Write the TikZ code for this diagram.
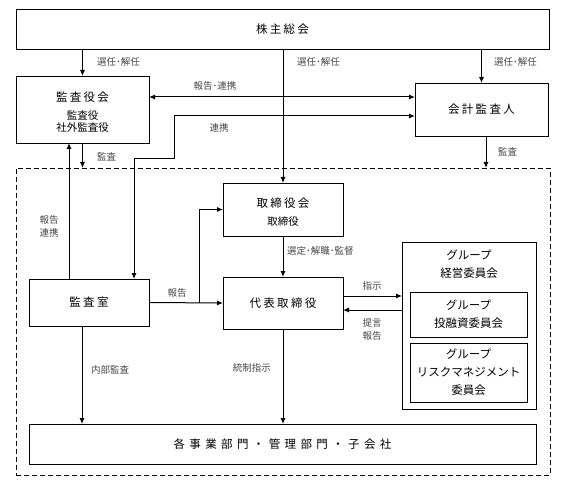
\documentclass[tikz,border=0pt]{standalone}
\usepackage{fontspec}
\setmainfont{Noto Sans CJK JP}
\newfontfamily\jpwide[LetterSpace=20]{Noto Sans CJK JP}
\newfontfamily\jpwider[LetterSpace=38]{Noto Sans CJK JP}
\usetikzlibrary{arrows.meta}

\begin{document}
\begin{tikzpicture}[x=1pt, y=-1pt,
    box/.style={draw, line width=0.9pt, inner sep=0pt, outer sep=0pt},
    ttl/.style={font=\jpwide\fontsize{11.5}{13}\selectfont},
    subtxt/.style={font=\fontsize{10.5}{12}\selectfont, align=center},
    cmte/.style={font=\fontsize{11.5}{18}\selectfont, align=center},
    lbl/.style={font=\fontsize{9.5}{13}\selectfont, text=black!72, inner sep=0pt, align=center},
    arr/.style={line width=1pt, -{Latex[length=6pt, width=5pt]}},
    arrboth/.style={line width=1pt, {Latex[length=6pt, width=5pt]}-{Latex[length=6pt, width=5pt]}}]

    % Fix the size of the picture
    \useasboundingbox (0,0) rectangle (567,486);

    % Dashed area of the company
    \node[box, dash pattern=on 5pt off 3pt, minimum width=534, minimum height=307] (company) at (283,321.5) {};

    % Boxes
    \node[box, ttl, minimum width=533, minimum height=40] (soukai) at (282.5,29) {株主総会};
    \node[box, minimum width=133, minimum height=67] (kansayakukai) at (82.5,109.5) {};
    \node[ttl] (kansayakukai-name) at (82.5,97) {監査役会};
    \node[subtxt] (kansayakukai-sub) at (82.5,122) {監査役\\社外監査役};
    \node[box, ttl, minimum width=133, minimum height=53] (kaikei) at (481.5,109.5) {会計監査人};
    \node[box, minimum width=120, minimum height=53] (torikai) at (283,209.5) {};
    \node[ttl] (torikai-name) at (283,203) {取締役会};
    \node[subtxt] (torikai-sub) at (283,222) {取締役};
    \node[box, ttl, minimum width=120, minimum height=52] (daihyo) at (283,303) {代表取締役};
    \node[box, ttl, minimum width=120, minimum height=47] (kansashitsu) at (89,302.5) {監査室};

    % Group committees
    \node[box, minimum width=134, minimum height=167] (keiei) at (469,325.5) {};
    \node[cmte] (keiei-name) at (469,264) {グループ\\経営委員会};
    \node[box, cmte, minimum width=117, minimum height=45] (touyuushi) at (468.5,314.5) {グループ\\投融資委員会};
    \node[box, cmte, minimum width=117, minimum height=59] (risk) at (468.5,372.5) {グループ\\リスクマネジメント\\委員会};

    \node[box, minimum width=507, minimum height=40, font=\jpwider\fontsize{11.5}{13}\selectfont] (bumon) at (282.5,444) {各事業部門・管理部門・子会社};

    % Arrows from the shareholders' meeting
    \draw[arr] (soukai.south -| kansayakukai) -- (kansayakukai.north);
    \draw[arr] (soukai.south -| torikai) -- (torikai.north);
    \draw[arr] (soukai.south -| kaikei) -- (kaikei.north);

    % Audit board and accounting auditor
    \draw[arrboth] ([yshift=12.5pt]kansayakukai.east) -- ([yshift=12.5pt]kansayakukai.east -| kaikei.west);
    \coordinate (renkei) at (174,159);
    \draw[arrboth] ([yshift=-6.5pt]kaikei.west) -| (renkei) -| ([xshift=45pt]kansashitsu.north);
    \draw[arr] ([xshift=-20pt]kansashitsu.north) -- ([xshift=-20pt]kansashitsu.north |- kansayakukai.south);
    \draw[arr] (kansayakukai.south) -- (kansayakukai.south |- company.north);
    \draw[arr] ([xshift=4.5pt]kaikei.south) -- ([xshift=4.5pt]kaikei.south |- company.north);

    % Inside the company
    \draw[arr] (torikai.south) -- (daihyo.north);
    \coordinate (houkoku) at (199,302.5);
    \draw[arr] (kansashitsu.east) -- (daihyo.west);
    \draw[arr] (houkoku) |- (torikai.west);
    \draw[arr] ([yshift=7pt]daihyo.east) -- ([yshift=7pt]daihyo.east -| keiei.west);
    \draw[arr] ([yshift=-7pt]daihyo.east -| keiei.west) -- ([yshift=-7pt]daihyo.east);
    \draw[arr] ([xshift=-7pt]kansashitsu.south) -- ([xshift=-7pt]kansashitsu.south |- bumon.north);
    \draw[arr] (daihyo.south) -- (daihyo.south |- bumon.north);

    % Labels
    \node[lbl, anchor=west] (l-senin1) at (97,62) {選任･解任};
    \node[lbl, anchor=west] (l-senin2) at (297,62) {選任･解任};
    \node[lbl, anchor=west] (l-senin3) at (494,62) {選任･解任};
    \node[lbl] (l-houkokurenkei) at (215,86) {報告･連携};
    \node[lbl] (l-renkei) at (219,128) {連携};
    \node[lbl, anchor=west] (l-kansa1) at (97,157) {監査};
    \node[lbl, anchor=west] (l-kansa2) at (498,152) {監査};
    \node[lbl] (l-houkokurenkei2) at (49,226) {報告\\連携};
    \node[lbl] (l-houkoku) at (177,293) {報告};
    \node[lbl, anchor=west] (l-sentei) at (287,251) {選定･解職･監督};
    \node[lbl] (l-shiji) at (372,286) {指示};
    \node[lbl] (l-teigen) at (372,329) {提言\\報告};
    \node[lbl, anchor=west] (l-naibu) at (91,370) {内部監査};
    \node[lbl, anchor=east] (l-tousei) at (271,368) {統制指示};

\end{tikzpicture}
\end{document}
